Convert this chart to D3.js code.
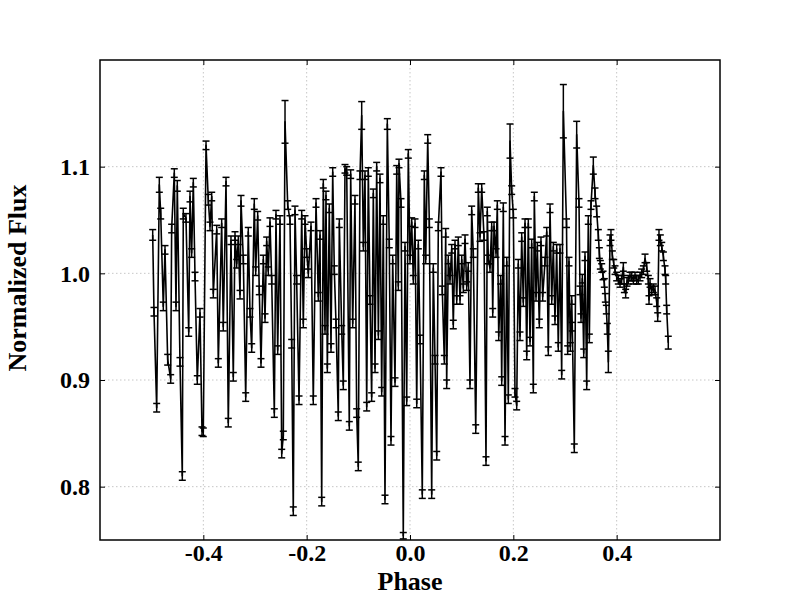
<!DOCTYPE html>
<html><head><meta charset="utf-8">
<script src="https://cdn.jsdelivr.net/npm/d3@7"></script>
<style>html,body{margin:0;padding:0;background:#fff;} svg{display:block;}</style>
</head><body><svg id="chart" width="800" height="600"></svg>
<script>
const phase = [
-0.4980,-0.4955,-0.4903,-0.4852,-0.4825,-0.4775,-0.4742,-0.4690,-0.4632,-0.4613,-0.4562,-0.4529,-0.4504,-0.4452,-0.4407,-0.4388,-0.4336,-0.4283,-0.4258,-0.4226,-0.4194,-0.4161,-0.4117,-0.4065,-0.4026,-0.4001,-0.3948,-0.3904,-0.3871,-0.3838,-0.3807,-0.3741,-0.3710,-0.3645,-0.3614,-0.3561,-0.3517,
-0.3465,-0.3420,-0.3387,-0.3354,-0.3323,-0.3290,-0.3271,-0.3226,-0.3180,-0.3130,-0.3097,-0.3064,-0.3014,-0.2987,-0.2948,-0.2917,-0.2884,-0.2839,-0.2806,-0.2774,-0.2743,-0.2710,-0.2677,-0.2626,-0.2594,-0.2561,-0.2516,-0.2483,-0.2452,-0.2419,-0.2367,-0.2323,-0.2290,-0.2259,-0.2226,-0.2194,-0.2148,-0.2096,-0.2065,-0.2032,-0.1999,-0.1968,-0.1916,-0.1872,
-0.1819,-0.1775,-0.1742,-0.1709,-0.1678,-0.1645,-0.1626,-0.1600,-0.1562,-0.1529,-0.1496,-0.1465,-0.1432,-0.1388,-0.1368,-0.1322,-0.1291,-0.1258,-0.1225,-0.1175,-0.1148,-0.1109,-0.1065,-0.1032,-0.1001,-0.0968,-0.0935,-0.0903,-0.0871,-0.0838,-0.0807,-0.0774,-0.0742,-0.0710,-0.0677,-0.0645,-0.0612,-0.0581,-0.0548,-0.0517,-0.0484,-0.0439,-0.0401,-0.0368,-0.0335,-0.0290,-0.0257,-0.0226,
-0.0213,-0.0174,-0.0130,-0.0097,-0.0064,-0.0033,0.0000,0.0033,0.0064,0.0097,0.0130,0.0161,0.0194,0.0238,0.0277,0.0304,0.0343,0.0374,0.0420,0.0451,0.0484,0.0517,0.0548,0.0600,0.0625,0.0664,0.0691,0.0710,0.0741,0.0774,0.0807,0.0838,0.0871,0.0904,0.0935,0.0968,0.1001,0.1032,0.1065,0.1097,0.1128,0.1161,0.1194,0.1225,0.1272,0.1322,0.1355,0.1388,0.1432,0.1471,
0.1496,0.1516,0.1548,0.1581,0.1601,0.1626,0.1665,0.1690,0.1717,0.1755,0.1775,0.1806,0.1839,0.1872,0.1903,0.1936,0.1968,0.2000,0.2032,0.2065,0.2096,0.2129,0.2162,0.2193,0.2226,0.2259,0.2290,0.2323,0.2355,0.2387,0.2406,0.2439,0.2464,0.2503,0.2535,0.2568,0.2613,0.2646,0.2677,0.2710,0.2743,0.2774,0.2806,0.2839,0.2870,0.2903,0.2936,0.2968,
0.3029,0.3052,0.3077,0.3103,0.3130,0.3141,0.3180,0.3226,0.3271,0.3290,0.3310,0.3335,0.3362,0.3387,0.3420,0.3451,0.3471,0.3503,0.3548,0.3581,0.3613,0.3645,0.3665,0.3684,0.3710,0.3736,0.3761,0.3781,0.3800,0.3819,0.3839,0.3871,0.3890,0.3916,0.3943,0.3968,0.4000,0.4032,0.4065,0.4097,0.4129,0.4149,0.4174,0.4200,0.4226,0.4258,0.4291,0.4323,0.4355,0.4388,0.4419,0.4452,0.4484,0.4517,0.4549,0.4581,0.4613,0.4626,0.4646,0.4678,0.4710,0.4742,0.4775,0.4794,0.4819,0.4845,0.4872,0.4904,0.4936,0.4949,0.4968,0.4999
];
const flux = [
1.036,0.964,0.874,1.083,1.056,0.969,1.022,0.919,0.901,1.042,1.094,0.969,1.082,0.917,0.810,1.056,1.052,0.945,1.072,1.019,1.085,0.997,0.900,0.963,0.852,0.851,1.120,1.069,1.044,1.072,0.981,1.041,0.916,1.047,0.950,1.086,0.860,
1.031,0.903,1.035,1.009,1.031,0.980,1.068,1.013,0.884,1.039,0.963,0.930,1.065,1.002,1.054,0.984,0.916,1.013,0.958,1.030,1.002,1.048,0.994,0.869,1.055,0.928,1.050,0.831,0.848,1.142,1.064,1.050,0.934,0.777,1.059,0.994,0.881,1.055,0.953,1.050,1.019,1.000,1.044,0.881,
1.066,0.978,1.036,0.786,1.084,0.947,1.073,0.911,1.061,0.930,1.095,1.003,0.953,0.866,1.047,0.947,0.895,1.098,1.096,0.857,1.093,0.953,1.069,0.869,0.819,1.092,1.148,1.025,1.092,0.875,1.095,0.975,0.884,1.075,0.911,1.100,0.942,1.089,0.889,1.050,0.788,1.140,1.028,0.843,1.013,0.898,1.097,0.988,
1.103,1.066,0.754,1.025,0.880,1.112,1.013,1.048,0.994,1.047,0.878,1.027,0.938,0.793,1.092,1.013,1.126,1.047,0.793,1.005,0.919,0.829,1.044,1.095,0.984,0.919,1.038,0.896,1.013,0.994,1.023,0.952,1.027,0.975,1.030,0.975,1.013,0.986,1.032,0.988,1.006,0.896,1.059,1.019,0.854,1.080,1.034,1.080,1.035,0.824,
1.058,1.013,1.005,1.044,0.963,1.044,1.019,1.064,0.941,0.994,0.899,1.062,0.843,1.011,0.882,1.124,1.078,1.056,0.888,0.876,1.009,0.941,1.034,0.973,1.047,0.923,1.047,0.936,1.028,0.892,1.072,0.978,1.025,0.953,1.030,0.978,1.011,1.039,0.927,1.061,0.975,1.025,0.956,1.023,0.931,1.023,0.905,1.152,
1.047,0.928,1.011,0.931,0.975,0.950,0.836,1.130,1.066,0.984,0.958,0.995,0.925,1.016,0.895,1.050,0.939,1.064,1.101,1.075,1.058,1.036,1.019,1.008,1.005,0.998,0.991,0.977,0.966,0.948,0.917,1.031,1.036,1.017,1.009,1.003,0.997,0.994,0.991,0.994,1.006,0.986,0.981,0.992,0.994,0.997,0.997,0.994,0.997,0.994,0.994,0.997,1.000,1.003,1.014,1.006,0.994,0.975,0.991,0.984,0.986,0.984,0.973,0.959,1.036,1.031,1.025,1.016,1.003,0.994,0.966,0.935
];
const fluxErr = [
0.005,0.004,0.004,0.007,0.005,0.004,0.004,0.005,0.004,0.004,0.004,0.004,0.005,0.004,0.004,0.005,0.004,0.004,0.005,0.004,0.004,0.004,0.004,0.004,0.004,0.004,0.004,0.005,0.004,0.004,0.004,0.004,0.004,0.004,0.004,0.004,0.004,
0.004,0.004,0.004,0.004,0.004,0.004,0.005,0.004,0.004,0.004,0.004,0.004,0.005,0.004,0.004,0.004,0.004,0.004,0.004,0.004,0.004,0.004,0.004,0.004,0.004,0.004,0.004,0.004,0.004,0.020,0.004,0.004,0.004,0.004,0.004,0.004,0.004,0.004,0.004,0.004,0.004,0.004,0.004,0.004,
0.004,0.004,0.004,0.004,0.004,0.004,0.004,0.004,0.004,0.004,0.004,0.004,0.004,0.004,0.004,0.004,0.004,0.004,0.004,0.004,0.004,0.004,0.004,0.004,0.004,0.004,0.013,0.004,0.004,0.004,0.004,0.004,0.004,0.004,0.004,0.004,0.004,0.004,0.004,0.004,0.004,0.005,0.004,0.004,0.004,0.004,0.004,0.004,
0.004,0.004,0.003,0.004,0.004,0.004,0.004,0.004,0.004,0.004,0.004,0.004,0.004,0.004,0.004,0.004,0.004,0.004,0.004,0.004,0.004,0.004,0.004,0.004,0.004,0.004,0.004,0.004,0.004,0.004,0.004,0.004,0.004,0.004,0.004,0.004,0.004,0.004,0.004,0.004,0.004,0.004,0.004,0.004,0.004,0.004,0.004,0.004,0.004,0.004,
0.004,0.004,0.004,0.004,0.004,0.004,0.004,0.004,0.004,0.004,0.004,0.004,0.004,0.004,0.004,0.016,0.004,0.004,0.004,0.004,0.004,0.004,0.004,0.004,0.004,0.004,0.004,0.004,0.004,0.004,0.004,0.004,0.004,0.004,0.004,0.004,0.004,0.004,0.004,0.004,0.004,0.004,0.004,0.004,0.004,0.004,0.004,0.025,
0.004,0.004,0.004,0.004,0.004,0.004,0.004,0.0125,0.004,0.004,0.004,0.004,0.004,0.004,0.004,0.004,0.004,0.004,0.008,0.005,0.005,0.005,0.005,0.004,0.004,0.004,0.004,0.004,0.004,0.005,0.010,0.005,0.005,0.004,0.004,0.004,0.004,0.004,0.004,0.004,0.004,0.004,0.004,0.004,0.004,0.004,0.004,0.004,0.004,0.004,0.004,0.004,0.004,0.004,0.004,0.004,0.004,0.004,0.004,0.004,0.004,0.004,0.004,0.004,0.005,0.005,0.004,0.004,0.004,0.004,0.004,0.006
];
const xTickValues = [-0.4, -0.2, 0.0, 0.2, 0.4];
const xTickLabels = ["-0.4", "-0.2", "0.0", "0.2", "0.4"];
const yTickValues = [0.8, 0.9, 1.0, 1.1];
const yTickLabels = ["0.8", "0.9", "1.0", "1.1"];
const xTitle = "Phase";
const yTitle = "Normalized Flux";

const L = 100, R = 720, T = 60, B = 540;
const x = d3.scaleLinear().domain([-0.6, 0.6]).range([L, R]);
const y = d3.scaleLinear().domain([0.75, 1.2]).range([B, T]);
const font = "'Liberation Serif','Times New Roman',serif";
const svg = d3.select("#chart");
svg.append("rect").attr("width", 800).attr("height", 600).attr("fill", "#fff");

svg.append("defs").append("clipPath").attr("id", "clip")
  .append("rect").attr("x", L).attr("y", T).attr("width", R - L).attr("height", B - T);

// grid
const grid = svg.append("g").attr("stroke", "#b8b8b8").attr("stroke-width", 0.8).attr("stroke-dasharray", "1.5,2.5");
grid.selectAll("line.gx").data(xTickValues).join("line").attr("class", "gx")
  .attr("x1", d => x(d)).attr("x2", d => x(d)).attr("y1", T).attr("y2", B);
grid.selectAll("line.gy").data(yTickValues).join("line").attr("class", "gy")
  .attr("y1", d => y(d)).attr("y2", d => y(d)).attr("x1", L).attr("x2", R);

// data
const n = Math.min(phase.length, flux.length, fluxErr.length);
const idx = d3.range(n);
const plot = svg.append("g").attr("clip-path", "url(#clip)");
plot.append("path").datum(idx)
  .attr("fill", "none").attr("stroke", "#000").attr("stroke-width", 1.6).attr("stroke-linejoin", "round")
  .attr("d", d3.line().x(i => x(phase[i])).y(i => y(flux[i])));
const eb = plot.append("g").attr("stroke", "#000").attr("stroke-width", 1.5);
eb.selectAll("line.bar").data(idx).join("line").attr("class", "bar")
  .attr("x1", i => x(phase[i])).attr("x2", i => x(phase[i]))
  .attr("y1", i => y(flux[i] - fluxErr[i])).attr("y2", i => y(flux[i] + fluxErr[i]));
eb.selectAll("line.capT").data(idx).join("line").attr("class", "capT")
  .attr("x1", i => x(phase[i]) - 3.5).attr("x2", i => x(phase[i]) + 3.5)
  .attr("y1", i => y(flux[i] + fluxErr[i])).attr("y2", i => y(flux[i] + fluxErr[i]));
eb.selectAll("line.capB").data(idx).join("line").attr("class", "capB")
  .attr("x1", i => x(phase[i]) - 3.5).attr("x2", i => x(phase[i]) + 3.5)
  .attr("y1", i => y(flux[i] - fluxErr[i])).attr("y2", i => y(flux[i] - fluxErr[i]));

// axes
function styleAxis(g) {
  g.select(".domain").remove();
  g.selectAll(".tick line").attr("stroke", "#000").attr("stroke-width", 1);
  g.selectAll(".tick text").attr("fill", "#000").style("font-family", font)
    .style("font-weight", "bold").style("font-size", "24px");
}
svg.append("g").attr("transform", `translate(0,${B})`)
  .call(d3.axisBottom(x).tickValues(xTickValues).tickFormat((d, i) => xTickLabels[i]).tickSizeInner(-5).tickSizeOuter(0))
  .call(styleAxis)
  .call(g => g.selectAll(".tick text").attr("y", 21).attr("dy", 0));
svg.append("g").attr("transform", `translate(0,${T})`)
  .call(d3.axisTop(x).tickValues(xTickValues).tickFormat("").tickSizeInner(-5).tickSizeOuter(0))
  .call(styleAxis);
svg.append("g").attr("transform", `translate(${L},0)`)
  .call(d3.axisLeft(y).tickValues(yTickValues).tickFormat((d, i) => yTickLabels[i]).tickSizeInner(-5).tickSizeOuter(0))
  .call(styleAxis)
  .call(g => g.selectAll(".tick text").attr("x", -10).attr("dy", "0.33em"));
svg.append("g").attr("transform", `translate(${R},0)`)
  .call(d3.axisRight(y).tickValues(yTickValues).tickFormat("").tickSizeInner(-5).tickSizeOuter(0))
  .call(styleAxis);

svg.append("rect").attr("x", L).attr("y", T).attr("width", R - L).attr("height", B - T)
  .attr("fill", "none").attr("stroke", "#000").attr("stroke-width", 1.5);

svg.append("text").attr("x", (L + R) / 2).attr("y", 590).attr("text-anchor", "middle")
  .style("font-family", font).style("font-weight", "bold").style("font-size", "26px").text(xTitle);
svg.append("text").attr("transform", "translate(26,278) rotate(-90)").attr("text-anchor", "middle")
  .style("font-family", font).style("font-weight", "bold").style("font-size", "26px").text(yTitle);
</script></body></html>
